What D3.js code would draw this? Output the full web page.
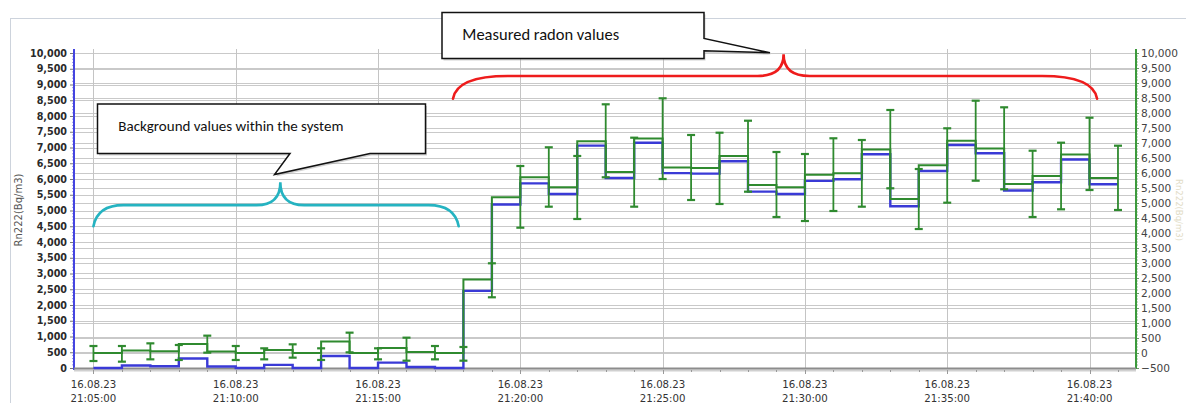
<!DOCTYPE html>
<html>
<head>
<meta charset="utf-8">
<script src="https://cdn.jsdelivr.net/npm/d3@7"></script>
<style>
  html, body { margin: 0; padding: 0; background: #ffffff; }
  svg { display: block; }
</style>
</head>
<body>
<svg id="chart" width="1186" height="403"></svg>
<script>
// ---------------- DATA ----------------
const measureDate = "2023-08-16";
const times = ["21:05","21:06","21:07","21:08","21:09","21:10","21:11","21:12","21:13","21:14",
               "21:15","21:16","21:17","21:18","21:19","21:20","21:21","21:22","21:23","21:24",
               "21:25","21:26","21:27","21:28","21:29","21:30","21:31","21:32","21:33","21:34",
               "21:35","21:36","21:37","21:38","21:39","21:40","21:41"];
const radon = [0, 0, 80, 55, 300, 50, 0, 100, 0, 380,
               0, 170, 30, 0, 2450, 5190, 5860, 5525, 7060, 6030,
               7150, 6185, 6170, 6565, 5600, 5525, 5940, 5990, 6785, 5135,
               6255, 7078, 6818, 5633, 5898, 6620, 5833];
const errLow  = [-267, -289, -211, -233, 11, -233, -211, -155, -233, 22,
                 -211, -256, -211, -256, 1857, 4177, 4877, 4467, 5857, 4877,
                 5800, 5100, 4967, 5377, 4533, 4400, 4733, 4877, 5490, 4133,
                 5010, 5743, 5457, 4533, 4790, 5433, 4767];
const errHigh = [233, 233, 322, 267, 578, 233, 156, 289, 156, 678,
                 156, 511, 233, 200, 2990, 6233, 6857, 6567, 8290, 7177,
                 8490, 7267, 7343, 7743, 6700, 6633, 7157, 7100, 8100, 6133,
                 7490, 8410, 8190, 6743, 7010, 7843, 6910];
const leftTicks  = [0,500,1000,1500,2000,2500,3000,3500,4000,4500,5000,5500,6000,6500,7000,7500,8000,8500,9000,9500,10000];
const rightTicks = [-500,0,500,1000,1500,2000,2500,3000,3500,4000,4500,5000,5500,6000,6500,7000,7500,8000,8500,9000,9500,10000];
const xTickTimes = ["21:05:00","21:10:00","21:15:00","21:20:00","21:25:00","21:30:00","21:35:00","21:40:00"];
const xDomain = ["21:04:19","21:41:38"];
const yLabel = "Rn222(Bq/m3)";
const calloutTexts = ["Background values within the system", "Measured radon values"];

// ---------------- SETUP ----------------
const parseHM  = d3.timeParse("%Y-%m-%d %H:%M");
const parseHMS = d3.timeParse("%Y-%m-%d %H:%M:%S");
const data = times.map((t, i) => ({ t: parseHM(measureDate + " " + t), v: radon[i], lo: errLow[i], hi: errHigh[i] }));

const plot = { left: 74, right: 1136, top: 53, bottom: 368 };
const svg = d3.select("#chart");

const x = d3.scaleTime()
  .domain(xDomain.map(s => parseHMS(measureDate + " " + s)))
  .range([plot.left, plot.right]);
const yL = d3.scaleLinear().domain([0, 10000]).range([plot.bottom, plot.top]);
const yR = d3.scaleLinear().domain([-500, 10000]).range([plot.bottom, plot.top]);

const BLUE = "#3a3ad6", GREEN = "#2f8a2f", GRID = "#c9c9c9";

// outer frame lines
svg.append("line").attr("x1", 10).attr("x2", 1186).attr("y1", 18.5).attr("y2", 18.5).attr("stroke", "#cdd3dc");
svg.append("line").attr("x1", 10.5).attr("x2", 10.5).attr("y1", 18).attr("y2", 403).attr("stroke", "#cdd3dc");

// ---------------- GRID ----------------
const grid = svg.append("g");
grid.selectAll(".hl").data(leftTicks).join("line")
  .attr("x1", plot.left).attr("x2", plot.right)
  .attr("y1", d => Math.round(yL(d)) + 0.5).attr("y2", d => Math.round(yL(d)) + 0.5)
  .attr("stroke", GRID).attr("stroke-width", 1);
grid.selectAll(".hr").data(rightTicks).join("line")
  .attr("x1", plot.left).attr("x2", plot.right)
  .attr("y1", d => Math.round(yR(d)) + 0.5).attr("y2", d => Math.round(yR(d)) + 0.5)
  .attr("stroke", GRID).attr("stroke-width", 1);
const xTicks = xTickTimes.map(s => parseHMS(measureDate + " " + s));
grid.selectAll(".v").data(xTicks).join("line")
  .attr("x1", d => Math.round(x(d)) + 0.5).attr("x2", d => Math.round(x(d)) + 0.5)
  .attr("y1", plot.top - 4).attr("y2", plot.bottom)
  .attr("stroke", "#c4c4c4").attr("stroke-width", 1);

// ---------------- AXES ----------------
const fontAxis = "DejaVu Sans, Verdana, sans-serif";

// left axis (blue)
const gL = svg.append("g").attr("transform", `translate(${plot.left},0)`)
  .call(d3.axisLeft(yL).tickValues(leftTicks).tickFormat(d3.format(",")).tickSize(4).tickPadding(3));
gL.select(".domain").remove();
gL.selectAll(".tick line").attr("stroke", "#777");
gL.selectAll(".tick text").attr("font-family", fontAxis).attr("font-size", 9.6).attr("font-weight", "bold").attr("fill", "#2a2a2a");
// minor ticks left
const minorL = d3.range(0, 10001, 100).filter(v => v % 500 !== 0);
svg.append("g").selectAll("line").data(minorL).join("line")
  .attr("x1", plot.left - 2).attr("x2", plot.left)
  .attr("y1", d => yL(d)).attr("y2", d => yL(d))
  .attr("stroke", "#8888dd").attr("stroke-width", 0.8);
svg.append("line").attr("x1", plot.left).attr("x2", plot.left)
  .attr("y1", plot.top - 4).attr("y2", plot.bottom + 2)
  .attr("stroke", "#4545e0").attr("stroke-width", 2);

// right axis (green)
const gR = svg.append("g").attr("transform", `translate(${plot.right},0)`)
  .call(d3.axisRight(yR).tickValues(rightTicks).tickFormat(d3.format(",")).tickSize(3).tickPadding(2));
gR.select(".domain").remove();
gR.selectAll(".tick line").attr("stroke", "#6a9a6a");
gR.selectAll(".tick text").attr("font-family", fontAxis).attr("font-size", 10.6).attr("fill", "#444");
const minorR = d3.range(-500, 10001, 100).filter(v => v % 500 !== 0);
svg.append("g").selectAll("line").data(minorR).join("line")
  .attr("x1", plot.right).attr("x2", plot.right + 2)
  .attr("y1", d => yR(d)).attr("y2", d => yR(d))
  .attr("stroke", "#7ab07a").attr("stroke-width", 0.8);
svg.append("line").attr("x1", plot.right).attr("x2", plot.right)
  .attr("y1", plot.top - 4).attr("y2", plot.bottom + 1)
  .attr("stroke", "#3c9a3c").attr("stroke-width", 2);

// bottom axis
svg.append("line").attr("x1", plot.left).attr("x2", plot.right)
  .attr("y1", plot.bottom + 2.5).attr("y2", plot.bottom + 2.5)
  .attr("stroke", "#d0d0d0").attr("stroke-width", 2);
svg.append("line").attr("x1", plot.left).attr("x2", plot.right)
  .attr("y1", plot.bottom + 0.5).attr("y2", plot.bottom + 0.5)
  .attr("stroke", "#8c8c8c").attr("stroke-width", 2.2);
const minorX = d3.timeMinute.range(x.domain()[0], x.domain()[1]);
svg.append("g").selectAll("line").data(minorX).join("line")
  .attr("x1", d => Math.round(x(d)) + 0.5).attr("x2", d => Math.round(x(d)) + 0.5)
  .attr("y1", plot.bottom + 2).attr("y2", d => d.getMinutes() % 5 === 0 ? plot.bottom + 6 : plot.bottom + 4)
  .attr("stroke", "#999").attr("stroke-width", 1);
const fmtDate = d3.timeFormat("%d.%m.%y"), fmtTime = d3.timeFormat("%H:%M:%S");
const xl = svg.append("g").selectAll("text").data(xTicks).join("text")
  .attr("x", d => x(d)).attr("text-anchor", "middle")
  .attr("font-family", fontAxis).attr("font-size", 10.2).attr("fill", "#333");
xl.append("tspan").attr("x", d => x(d)).attr("y", 387.5).text(d => fmtDate(d));
xl.append("tspan").attr("x", d => x(d)).attr("y", 401.5).text(d => fmtTime(d));

// axis titles
svg.append("text").attr("transform", "translate(21.5,210) rotate(-90)")
  .attr("text-anchor", "middle").attr("font-family", fontAxis).attr("font-size", 10)
  .attr("fill", "#555").text(yLabel);
svg.append("text").attr("transform", "translate(1176,210) rotate(90)")
  .attr("text-anchor", "middle").attr("font-family", fontAxis).attr("font-size", 8.5)
  .attr("fill", "#e2dcc6").text(yLabel);

// ---------------- SERIES ----------------
const lineBlue = d3.line().x(d => x(d.t)).y(d => yL(d.v)).curve(d3.curveStepBefore);
const lineGreen = d3.line().x(d => x(d.t)).y(d => yR(d.v)).curve(d3.curveStepBefore);
svg.append("path").datum(data).attr("d", lineBlue)
  .attr("fill", "none").attr("stroke", BLUE).attr("stroke-width", 2.4);
svg.append("path").datum(data).attr("d", lineGreen)
  .attr("fill", "none").attr("stroke", GREEN).attr("stroke-width", 2);

const eb = svg.append("g").attr("stroke", GREEN).attr("stroke-width", 1.8).attr("fill", "none");
eb.selectAll(".ev").data(data).join("line")
  .attr("x1", d => x(d.t)).attr("x2", d => x(d.t))
  .attr("y1", d => yR(d.lo)).attr("y2", d => yR(d.hi));
eb.selectAll(".ct").data(data).join("line")
  .attr("x1", d => x(d.t) - 4).attr("x2", d => x(d.t) + 4)
  .attr("y1", d => yR(d.hi)).attr("y2", d => yR(d.hi)).attr("stroke-width", 2.2);
eb.selectAll(".cb").data(data).join("line")
  .attr("x1", d => x(d.t) - 4).attr("x2", d => x(d.t) + 4)
  .attr("y1", d => yR(d.lo)).attr("y2", d => yR(d.lo)).attr("stroke-width", 2.2);

// ---------------- ANNOTATIONS ----------------
function brace(x0, x1, xc, yEnd, yMid, yTip, r, r2) {
  return `M${x0},${yEnd} Q${x0 + 4},${yMid} ${x0 + r},${yMid} L${xc - r2},${yMid} Q${xc},${yMid} ${xc},${yTip}` +
         ` Q${xc},${yMid} ${xc + r2},${yMid} L${x1 - r},${yMid} Q${x1 - 4},${yMid} ${x1},${yEnd}`;
}
const T = s => x(parseHMS(measureDate + " " + s));
// teal brace over background period
svg.append("path")
  .attr("d", brace(T("21:05:00"), T("21:17:50"), T("21:11:34"), yL(4500), yL(5170), yL(5900), 30, 24))
  .attr("fill", "none").attr("stroke", "#25b3c1").attr("stroke-width", 2.6).attr("stroke-linecap", "round");
// red brace over measured period
svg.append("path")
  .attr("d", brace(T("21:17:38"), T("21:40:16"), T("21:29:15"), yL(8550), yL(9270), yL(9960), 55, 26))
  .attr("fill", "none").attr("stroke", "#ee1c1c").attr("stroke-width", 2.6).attr("stroke-linecap", "round");

const fontCallout = "Carlito, Lato, 'Open Sans', sans-serif";
function callout(pathD, text, tx, ty, fs) {
  const g = svg.append("g");
  g.append("path").attr("d", pathD).attr("transform", "translate(1.5,2)")
    .attr("fill", "#9a9a9a").attr("opacity", 0.45);
  g.append("path").attr("d", pathD).attr("fill", "#fff").attr("stroke", "#111").attr("stroke-width", 1.5)
    .attr("stroke-linejoin", "miter");
  g.append("text").attr("x", tx).attr("y", ty).attr("font-family", fontCallout)
    .attr("font-size", fs).attr("fill", "#111").text(text);
}
callout("M97.5,104 L425.5,104 L425.5,153.5 L370,153.5 L274.5,174.5 L290,153.5 L97.5,153.5 Z",
  calloutTexts[0], 118.3, 130.7, 15);
callout("M442,12.5 L704,12.5 L704,38.5 L770,52.7 L704,50.7 L704,58.5 L442,58.5 Z",
  calloutTexts[1], 462.3, 40, 16.5);
</script>
</body>
</html>
